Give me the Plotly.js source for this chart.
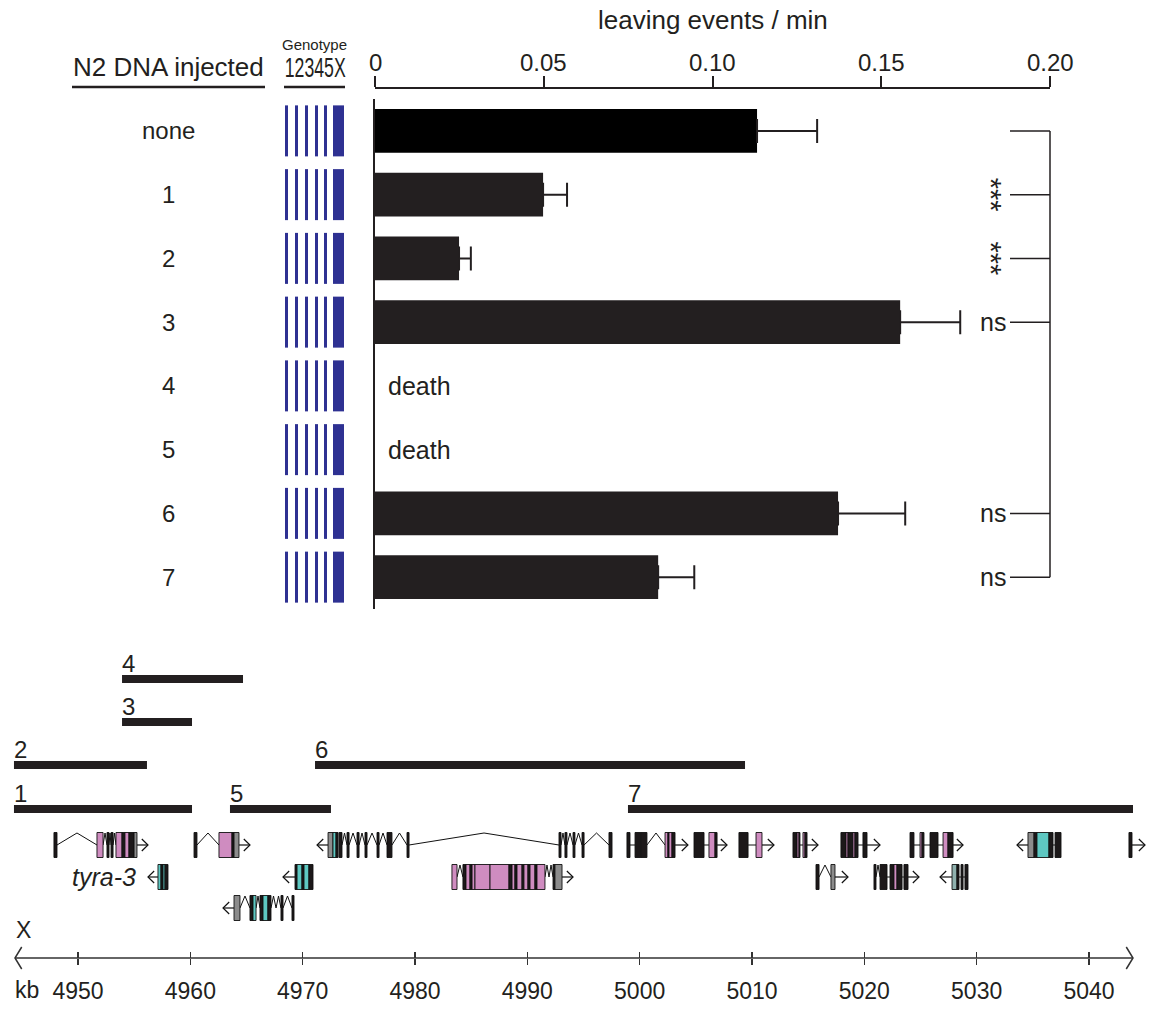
<!DOCTYPE html>
<html><head><meta charset="utf-8">
<script src="https://cdn.plot.ly/plotly-3.0.1.min.js"></script>
<style>html,body{margin:0;padding:0;background:#fff}#chart{width:1152px;height:1010px}</style>
</head><body><div id="chart"></div>
<script>
// ---------------- data: leaving assay ----------------
const rowLabels   = ['none','1','2','3','4','5','6','7'];
const leavingRate = [0.1132, 0.0498, 0.0249, 0.1556, null, null, 0.1372, 0.0839];
const leavingSem  = [0.0178, 0.0071, 0.0035, 0.0178, null, null, 0.0199, 0.0107];
const rowNotes    = ['', '', '', '', 'death', 'death', '', ''];
const sigLabels   = ['', '***', '***', 'ns', '', '', 'ns', 'ns'];
const sigCompared = ['none','1','2','3','6','7'];
const rateTicks   = [0, 0.05, 0.10, 0.15, 0.20];
const rateTickText= ['0','0.05','0.10','0.15','0.20'];

// ---------------- data: genomic map (kb) ----------------
const kbTicks = [4950,4960,4970,4980,4990,5000,5010,5020,5030,5040];
const chromSpan = [4944.39, 5043.92];
const constructNames = ['1','2','3','4','5','6','7'];
const constructStart = [4944.30, 4944.30, 4953.92, 4953.92, 4963.53, 4971.10, 4998.96];
const constructEnd   = [4960.15, 4956.14, 4960.15, 4964.69, 4972.52, 5009.38, 5043.92];
const constructTier  = [0, 1, 2, 3, 0, 1, 0];
const geneLabel = {text:'tyra-3', lane:1, endKb:4955.35};

// exons: [lane, start kb, end kb, kind]  p pink, t teal, g grey, s grey-teal, k dark
const exonParts = [
 [0,4947.86,4948.13,'k'],[0,4951.69,4952.23,'p'],[0,4952.58,4952.76,'k'],[0,4952.94,4953.12,'k'],
 [0,4953.38,4953.92,'p'],[0,4953.92,4954.18,'k'],[0,4954.18,4954.54,'p'],[0,4954.54,4954.99,'k'],[0,4954.99,4955.25,'g'],
 [0,4960.33,4960.59,'k'],[0,4962.55,4963.71,'p'],[0,4963.71,4963.89,'k'],[0,4963.89,4964.33,'g'],
 [0,4972.26,4972.70,'g'],[0,4972.70,4972.97,'t'],[0,4972.97,4973.15,'k'],[0,4973.24,4973.50,'k'],
 [0,4973.95,4974.13,'k'],[0,4974.84,4975.02,'k'],[0,4975.55,4975.73,'k'],[0,4976.62,4976.80,'k'],
 [0,4977.51,4977.95,'k'],[0,4979.29,4979.47,'k'],
 [0,4992.82,4993.00,'k'],[0,4993.35,4993.53,'k'],[0,4994.07,4994.24,'k'],[0,4994.87,4995.05,'k'],[0,4997.27,4997.54,'k'],
 [0,4998.87,4999.14,'k'],[0,4999.59,5000.10,'k'],[0,5000.10,5000.65,'k'],
 [0,5002.26,5002.52,'p'],[0,5002.52,5002.61,'k'],[0,5002.61,5002.88,'p'],[0,5002.88,5003.15,'k'],
 [0,5004.84,5005.73,'k'],[0,5006.17,5006.71,'p'],[0,5006.71,5006.89,'k'],
 [0,5008.84,5009.65,'k'],[0,5010.36,5010.89,'p'],
 [0,5013.65,5014.01,'k'],[0,5014.01,5014.19,'p'],[0,5014.19,5014.27,'k'],[0,5014.54,5014.72,'p'],[0,5014.72,5014.90,'k'],
 [0,5017.92,5018.37,'k'],[0,5018.37,5018.55,'p'],[0,5018.55,5018.99,'k'],[0,5018.99,5019.17,'p'],[0,5019.17,5019.44,'k'],[0,5019.88,5020.24,'k'],
 [0,5024.07,5024.42,'k'],[0,5024.96,5025.14,'p'],[0,5025.14,5025.31,'k'],[0,5025.85,5026.56,'k'],[0,5027.01,5027.45,'p'],[0,5027.45,5027.90,'k'],
 [0,5034.57,5035.11,'g'],[0,5035.11,5035.37,'k'],[0,5035.37,5036.44,'t'],[0,5036.44,5036.80,'k'],[0,5036.98,5037.51,'k'],
 [0,5043.56,5043.83,'k'],
 [1,4957.12,4957.39,'t'],[1,4957.39,4957.57,'k'],[1,4957.57,4957.75,'t'],[1,4957.75,4958.01,'k'],
 [1,4969.32,4969.50,'k'],[1,4969.50,4969.94,'t'],[1,4969.94,4970.12,'k'],[1,4970.12,4970.56,'t'],[1,4970.56,4970.92,'k'],
 [1,4983.29,4983.74,'p'],[1,4984.27,4984.54,'k'],[1,4984.54,4984.90,'p'],[1,4984.90,4985.08,'k'],[1,4985.08,4985.34,'p'],
 [1,4985.34,4986.68,'p'],[1,4986.68,4988.37,'p'],[1,4988.37,4988.64,'k'],[1,4988.64,4988.90,'p'],[1,4988.90,4989.08,'k'],
 [1,4989.08,4989.53,'p'],[1,4989.53,4989.70,'k'],[1,4989.70,4990.06,'p'],[1,4990.06,4990.24,'k'],[1,4990.24,4990.68,'p'],
 [1,4990.68,4990.86,'k'],[1,4990.86,4991.57,'p'],[1,4992.29,4992.46,'k'],[1,4992.46,4993.09,'g'],
 [1,5015.70,5015.97,'k'],[1,5017.03,5017.39,'g'],
 [1,5020.86,5021.04,'k'],[1,5021.40,5022.02,'k'],[1,5022.29,5022.64,'k'],[1,5022.64,5022.91,'p'],[1,5022.91,5023.36,'k'],[1,5023.53,5023.89,'k'],
 [1,5027.81,5028.25,'s'],[1,5028.25,5028.43,'k'],[1,5028.61,5028.79,'k'],[1,5028.96,5029.23,'k'],
 [2,4963.89,4964.42,'g'],[2,4965.31,4965.58,'k'],[2,4965.58,4965.85,'t'],[2,4966.20,4966.47,'k'],[2,4966.47,4966.91,'t'],
 [2,4966.91,4967.18,'k'],[2,4968.07,4968.25,'k'],[2,4969.05,4969.23,'k']
];
// introns: [lane, start kb, end kb, c = spliced chevron / s = straight link]
const intronParts = [
 [0,4948.13,4951.69,'c'],[0,4952.23,4952.58,'c'],[0,4952.76,4952.94,'c'],[0,4953.12,4953.38,'c'],
 [0,4960.59,4962.55,'c'],
 [0,4973.50,4973.95,'c'],[0,4974.13,4974.84,'c'],[0,4975.02,4975.55,'c'],[0,4975.73,4976.62,'c'],[0,4976.80,4977.51,'c'],[0,4977.95,4979.29,'c'],
 [0,4979.47,4992.82,'c'],[0,4993.00,4993.35,'c'],[0,4993.53,4994.07,'c'],[0,4994.24,4994.87,'c'],[0,4995.05,4997.27,'c'],
 [0,4999.14,4999.59,'s'],[0,5000.65,5002.26,'c'],
 [0,5005.73,5006.17,'s'],[0,5009.65,5010.36,'s'],[0,5014.27,5014.54,'s'],[0,5019.44,5019.88,'s'],
 [0,5024.42,5024.96,'s'],[0,5025.31,5025.85,'s'],[0,5026.56,5027.01,'s'],[0,5036.80,5036.98,'s'],
 [1,4983.74,4984.27,'c'],[1,4991.57,4991.93,'c'],[1,4991.93,4992.29,'c'],
 [1,5015.97,5017.03,'c'],
 [1,5021.04,5021.40,'c'],[1,5022.02,5022.29,'s'],[1,5023.36,5023.53,'s'],
 [1,5028.43,5028.61,'s'],[1,5028.79,5028.96,'s'],
 [2,4964.42,4965.31,'c'],[2,4965.85,4966.20,'c'],[2,4967.18,4967.63,'c'],[2,4967.63,4968.07,'c'],[2,4968.25,4969.05,'c']
];
// strand arrows: [lane, base kb, tip kb]
const geneArrows = [
 [0,4955.25,4956.23],[0,4964.33,4965.31],[0,4972.26,4971.28],[0,5003.15,5004.30],[0,5006.89,5007.78],[0,5010.89,5011.96],
 [0,5014.90,5015.88],[0,5020.24,5021.40],[0,5027.90,5028.79],[0,5034.57,5033.59],[0,5043.83,5044.99],
 [1,4957.12,4956.23],[1,4969.32,4968.25],[1,4993.09,4994.07],[1,5017.39,5018.55],[1,5023.89,5024.87],[1,5027.81,5026.74],
 [2,4963.89,4962.91]
];

// ---------------- layout helpers ----------------
const W = 1152, H = 1010;
const px = v => v / W, py = v => 1 - v / H;
const INK = '#231f20';
const FONT = 'Liberation Sans, Arial, Helvetica, sans-serif';
const BLUE = '#2e3192';
const exonColor = {p:'#cf8cc0', t:'#5ec8c2', g:'#8c8c8c', s:'#8fb1ae', k:'#1c1819'};
const laneY = [845, 877, 908];       // gene rows (pixel rows of the map panel)
const tierY = [809, 765, 722, 679];  // construct rows
const EXON_HALF = 12.5, APEX = 12, HEAD_KB = 0.55, HEAD_H = 6;
const KB_PX = 11.233, KB_ORIGIN_PX = 78;     // 4950 kb at x=78 px
const kbRange = [4950 - KB_ORIGIN_PX / KB_PX, 4950 + (W - KB_ORIGIN_PX) / KB_PX];

const traces = [];
const shapes = [];
const annotations = [];
const txt = (size, extra) => Object.assign({family: FONT, size: size, color: INK}, extra || {});

// ---- bar chart ----
traces.push({
  type: 'bar', orientation: 'h', x: leavingRate, y: rowLabels, xaxis: 'x', yaxis: 'y',
  width: 0.69,
  marker: {color: rowLabels.map((r, i) => i === 0 ? '#000000' : INK), line: {width: 0}},
  error_x: {type: 'data', symmetric: false, array: leavingSem,
            arrayminus: leavingSem.map(v => v == null ? null : 0),
            color: INK, thickness: 2, width: 12},
  hoverinfo: 'skip', showlegend: false
});

// top axis tick labels (placed on the axis scale)
rateTicks.forEach((v, i) => annotations.push({xref: 'x', yref: 'paper', x: v, y: py(62), text: rateTickText[i],
  showarrow: false, xanchor: 'center', yanchor: 'middle', borderpad: 0, font: txt(24)}));

// row labels, notes, genotype glyphs
rowLabels.forEach((lab, i) => {
  annotations.push({xref: 'paper', yref: 'y', x: px(168), y: i, text: lab, showarrow: false,
    xanchor: 'center', yanchor: 'middle', font: txt(24)});
  if (rowNotes[i]) annotations.push({xref: 'paper', yref: 'y', x: px(386), y: i, text: rowNotes[i],
    showarrow: false, xanchor: 'left', yanchor: 'middle', font: txt(25)});
  [285, 295, 305, 315, 324].forEach(x0 => shapes.push({type: 'rect', xref: 'paper', yref: 'y',
    x0: px(x0), x1: px(x0 + 3), y0: i - 0.4, y1: i + 0.4, fillcolor: BLUE, line: {width: 0}}));
  shapes.push({type: 'rect', xref: 'paper', yref: 'y', x0: px(333), x1: px(344), y0: i - 0.4, y1: i + 0.4,
    fillcolor: BLUE, line: {width: 0}});
});

// significance bracket
const sigIdx = sigCompared.map(l => rowLabels.indexOf(l));
shapes.push({type: 'line', xref: 'paper', yref: 'y', x0: px(1050), x1: px(1050),
  y0: Math.min(...sigIdx), y1: Math.max(...sigIdx), line: {color: INK, width: 1.5}});
sigIdx.forEach(i => {
  shapes.push({type: 'line', xref: 'paper', yref: 'y', x0: px(1010), x1: px(1050), y0: i, y1: i,
    line: {color: INK, width: 1.5}});
  const s = sigLabels[i];
  if (s === 'ns') annotations.push({xref: 'paper', yref: 'y', x: px(1008), y: i, text: s, showarrow: false,
    xanchor: 'right', yanchor: 'middle', font: txt(25)});
  else if (s) annotations.push({xref: 'paper', yref: 'y', x: px(991), y: i, text: s, showarrow: false,
    textangle: 90, xanchor: 'center', yanchor: 'middle', font: txt(29)});
});

// headers
annotations.push({xref: 'paper', yref: 'paper', x: px(713), y: py(20), text: 'leaving events / min',
  showarrow: false, xanchor: 'center', yanchor: 'middle', font: txt(26)});
annotations.push({xref: 'paper', yref: 'paper', x: px(168), y: py(67), text: 'N2 DNA injected',
  showarrow: false, xanchor: 'center', yanchor: 'middle', font: txt(26)});
annotations.push({xref: 'paper', yref: 'paper', x: px(314), y: py(44), text: 'Genotype',
  showarrow: false, xanchor: 'center', yanchor: 'middle', font: txt(15)});
annotations.push({xref: 'paper', yref: 'paper', x: px(314.5), y: py(67), text: '12345X',
  showarrow: false, xanchor: 'center', yanchor: 'middle', borderpad: 0, font: txt(21)});
shapes.push({type: 'line', xref: 'paper', yref: 'paper', x0: px(72), x1: px(265), y0: py(87), y1: py(87),
  line: {color: INK, width: 2.5}});
shapes.push({type: 'line', xref: 'paper', yref: 'paper', x0: px(284), x1: px(345), y0: py(87), y1: py(87),
  line: {color: INK, width: 2.5}});

// ---- genomic map ----
traces.push({type: 'scatter', mode: 'lines', xaxis: 'x2', yaxis: 'y2', hoverinfo: 'skip', showlegend: false,
  x: [chromSpan[0] + 0.6, chromSpan[0], chromSpan[0] + 0.6, null, chromSpan[0], chromSpan[1], null,
      chromSpan[1] - 0.6, chromSpan[1], chromSpan[1] - 0.6],
  y: [947, 958, 969, null, 958, 958, null, 947, 958, 969],
  line: {color: '#333333', width: 1.5}});
traces.push({type: 'scatter', mode: 'markers', xaxis: 'x3', yaxis: 'y2', x: [kbTicks[0]], y: [958],
  marker: {opacity: 0}, hoverinfo: 'skip', showlegend: false});

const cx = [], cy = [];
constructNames.forEach((n, i) => {
  cx.push(constructStart[i], constructEnd[i], null);
  cy.push(tierY[constructTier[i]], tierY[constructTier[i]], null);
  annotations.push({xref: 'x2', yref: 'y2', x: constructStart[i], y: tierY[constructTier[i]] - 15.5,
    text: n, showarrow: false, xanchor: 'left', yanchor: 'middle', xshift: -2, font: txt(24)});
});
traces.push({type: 'scatter', mode: 'lines', xaxis: 'x2', yaxis: 'y2', x: cx, y: cy,
  line: {color: INK, width: 8}, hoverinfo: 'skip', showlegend: false});

const ix = [], iy = [];
intronParts.forEach(([lane, s, e, k]) => {
  const y = laneY[lane];
  if (k === 'c') { ix.push(s, (s + e) / 2, e, null); iy.push(y, y - APEX, y, null); }
  else { ix.push(s, e, null); iy.push(y, y, null); }
});
traces.push({type: 'scatter', mode: 'lines', xaxis: 'x2', yaxis: 'y2', x: ix, y: iy,
  line: {color: '#111111', width: 1}, hoverinfo: 'skip', showlegend: false});
const ax = [], ay = [];
geneArrows.forEach(([lane, b, t]) => {
  const y = laneY[lane], d = t > b ? 1 : -1;
  ax.push(b, t, null, t - d * HEAD_KB, t, t - d * HEAD_KB, null);
  ay.push(y, y, null, y - HEAD_H, y, y + HEAD_H, null);
});
traces.push({type: 'scatter', mode: 'lines', xaxis: 'x2', yaxis: 'y2', x: ax, y: ay,
  line: {color: '#111111', width: 1.2}, hoverinfo: 'skip', showlegend: false});
exonParts.forEach(([lane, s, e, k]) => shapes.push({type: 'rect', xref: 'x2', yref: 'y2',
  x0: s, x1: e, y0: laneY[lane] - EXON_HALF, y1: laneY[lane] + EXON_HALF,
  fillcolor: exonColor[k], line: {color: '#111111', width: 0.9}, layer: 'above'}));

annotations.push({xref: 'x2', yref: 'y2', x: geneLabel.endKb, y: laneY[geneLabel.lane], text: geneLabel.text,
  showarrow: false, xanchor: 'right', yanchor: 'middle', font: txt(25, {style: 'italic'})});
annotations.push({xref: 'x2', yref: 'y2', x: chromSpan[0], y: 930, text: 'X',
  showarrow: false, xanchor: 'left', yanchor: 'middle', xshift: -1, font: txt(23)});
annotations.push({xref: 'paper', yref: 'paper', x: px(13), y: py(990), text: 'kb',
  showarrow: false, xanchor: 'left', yanchor: 'middle', font: txt(23)});

const layout = {
  width: W, height: H, margin: {l: 0, r: 0, t: 0, b: 0}, autosize: false,
  paper_bgcolor: '#ffffff', plot_bgcolor: 'rgba(0,0,0,0)', showlegend: false,
  xaxis: {domain: [px(375), px(1050)], range: [0, 0.2], side: 'top', anchor: 'free', position: py(88),
    tickvals: rateTicks, showticklabels: false, ticks: 'outside', ticklen: 11, tickwidth: 2, tickcolor: INK,
    showline: true, linewidth: 2, linecolor: INK, showgrid: false, zeroline: false, fixedrange: true},
  yaxis: {domain: [py(609), py(99)], type: 'category', categoryorder: 'array', categoryarray: rowLabels,
    range: [7.5, -0.5], anchor: 'x', showline: true, linewidth: 2, linecolor: INK,
    showticklabels: false, ticks: '', showgrid: false, zeroline: false, fixedrange: true},
  xaxis2: {domain: [0, 1], range: kbRange, anchor: 'free', position: py(958), side: 'bottom',
    tickvals: kbTicks, ticktext: kbTicks.map(String), ticks: 'outside', ticklen: 6, tickwidth: 1.5,
    tickcolor: '#333333', showline: false, showgrid: false, zeroline: false,
    tickfont: txt(23), ticklabelstandoff: 6, fixedrange: true},
  xaxis3: {overlaying: 'x2', range: kbRange, anchor: 'free', position: py(958), side: 'top',
    tickvals: kbTicks, ticks: 'outside', ticklen: 6, tickwidth: 1.5, tickcolor: '#333333',
    showticklabels: false, showline: false, showgrid: false, zeroline: false, fixedrange: true},
  yaxis2: {domain: [0, py(606)], range: [H, 606], anchor: 'x2', visible: false, fixedrange: true},
  shapes: shapes, annotations: annotations
};

Plotly.newPlot('chart', traces, layout, {staticPlot: true, displayModeBar: false}).then(gd => {
  // condensed, tall genotype header, as in the original typesetting
  gd.querySelectorAll('text.annotation-text').forEach(t => {
    if (t.textContent === '12345X') {
      t.setAttribute('textLength', '61');
      t.setAttribute('lengthAdjust', 'spacingAndGlyphs');
      const bb = t.getBBox();
      const cyy = bb.y + bb.height / 2;
      t.setAttribute('transform', 'translate(0 ' + cyy + ') scale(1 1.3) translate(0 ' + (-cyy) + ')');
    }
  });
});
</script></body></html>
